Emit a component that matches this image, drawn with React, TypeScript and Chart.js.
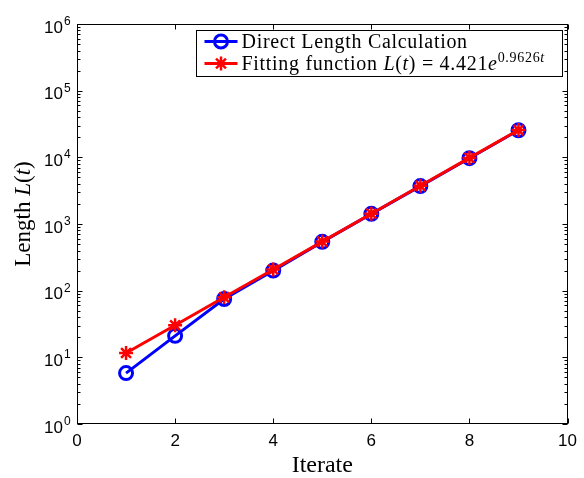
import React, { useEffect, useRef } from 'react';
import { Chart, registerables } from 'chart.js';

Chart.register(...registerables);

// ---------- data ----------
const iterations = [1, 2, 3, 4, 5, 6, 7, 8, 9];
const directLength = [5.8, 21, 75, 200, 540, 1420, 3700, 9700, 25500];
const fittedLength = [11.6, 30.3, 79.5, 208, 545, 1428, 3740, 9800, 25660];
const xTickValues = [0, 2, 4, 6, 8, 10];
const yDecadeExponents = [0, 1, 2, 3, 4, 5, 6];
const xAxisTitle = 'Iterate';
const directLabel = 'Direct Length Calculation';
const fitLabelPrefix = 'Fitting function ';
const fitCoefficient = '4.421';
const fitExponent = '0.9626';

// ---------- styles ----------
const BLUE = '#0000ff';
const RED = '#ff0000';
const SERIF = '"Liberation Serif", "Times New Roman", serif';
const SANS = '"Liberation Sans", Arial, Helvetica, sans-serif';

type Seg = { t: string; font: string; dy?: number };

function drawSegs(ctx: CanvasRenderingContext2D, segs: Seg[], x: number, y: number) {
  let cx = x;
  for (const s of segs) {
    ctx.font = s.font;
    ctx.fillText(s.t, cx, y + (s.dy || 0));
    cx += ctx.measureText(s.t).width;
  }
  return cx - x;
}
function segsWidth(ctx: CanvasRenderingContext2D, segs: Seg[]) {
  let w = 0;
  for (const s of segs) {
    ctx.font = s.font;
    w += ctx.measureText(s.t).width;
  }
  return w;
}

function drawStar(ctx: CanvasRenderingContext2D, x: number, y: number, r: number) {
  ctx.beginPath();
  ctx.moveTo(x, y - r); ctx.lineTo(x, y + r);
  ctx.moveTo(x - r, y); ctx.lineTo(x + r, y);
  const d = r * Math.SQRT1_2;
  ctx.moveTo(x - d, y - d); ctx.lineTo(x + d, y + d);
  ctx.moveTo(x - d, y + d); ctx.lineTo(x + d, y - d);
  ctx.stroke();
}

const matlabPlugin = {
  id: 'matlabAxes',
  afterDraw(chart: any) {
    const { ctx, chartArea: a, scales } = chart;
    const xs = scales.x;
    const ys = scales.y;
    ctx.save();
    ctx.strokeStyle = '#000';
    ctx.fillStyle = '#000';
    ctx.lineWidth = 1;

    const L = Math.round(a.left) + 0.5;
    const R = Math.round(a.right) - 0.5;
    const T = Math.round(a.top) + 0.5;
    const B = Math.round(a.bottom) - 0.5;

    // ticks (inward, both sides)
    ctx.beginPath();
    for (const v of xTickValues) {
      const px = Math.round(xs.getPixelForValue(v)) + 0.5;
      ctx.moveTo(px, B); ctx.lineTo(px, B - 5);
      ctx.moveTo(px, T); ctx.lineTo(px, T + 5);
    }
    for (const e of yDecadeExponents) {
      const py = Math.round(ys.getPixelForValue(Math.pow(10, e))) + 0.5;
      ctx.moveTo(L, py); ctx.lineTo(L + 5, py);
      ctx.moveTo(R, py); ctx.lineTo(R - 5, py);
      if (e < yDecadeExponents[yDecadeExponents.length - 1]) {
        for (let m = 2; m <= 9; m++) {
          const pm = Math.round(ys.getPixelForValue(m * Math.pow(10, e))) + 0.5;
          ctx.moveTo(L, pm); ctx.lineTo(L + 3, pm);
          ctx.moveTo(R, pm); ctx.lineTo(R - 3, pm);
        }
      }
    }
    ctx.stroke();

    // box
    ctx.strokeRect(L, T, R - L, B - T);

    // y tick labels 10^e
    ctx.textBaseline = 'alphabetic';
    for (const e of yDecadeExponents) {
      const py = ys.getPixelForValue(Math.pow(10, e));
      ctx.font = `17px ${SANS}`;
      ctx.textAlign = 'right';
      ctx.fillText('10', a.left - 14, py + 8.5);
      ctx.font = `12px ${SANS}`;
      ctx.textAlign = 'left';
      ctx.fillText(String(e), a.left - 13, py + 1);
    }

    // x axis title
    ctx.textAlign = 'center';
    ctx.font = `24px ${SERIF}`;
    ctx.fillText(xAxisTitle, (a.left + a.right) / 2, 471.5);

    // y axis title (rotated)
    const reg = `23px ${SERIF}`;
    const ital = `italic 23px ${SERIF}`;
    const ySegs: Seg[] = [
      { t: 'Length ', font: reg },
      { t: 'L', font: ital },
      { t: '(', font: reg },
      { t: 't', font: ital },
      { t: ')', font: reg },
    ];
    ctx.save();
    ctx.translate(30, 214);
    ctx.rotate(-Math.PI / 2);
    ctx.textAlign = 'left';
    const yw = segsWidth(ctx, ySegs);
    drawSegs(ctx, ySegs, -yw / 2, 0);
    ctx.restore();

    // legend
    const lreg = `20px ${SERIF}`;
    const lital = `italic 20px ${SERIF}`;
    const row1: Seg[] = [{ t: directLabel, font: lreg }];
    const row2: Seg[] = [
      { t: fitLabelPrefix, font: lreg },
      { t: 'L', font: lital },
      { t: '(', font: lreg },
      { t: 't', font: lital },
      { t: ') = ' + fitCoefficient, font: lreg },
      { t: 'e', font: lital },
      { t: fitExponent, font: `14px ${SERIF}`, dy: -8 },
      { t: 't', font: `italic 14px ${SERIF}`, dy: -8 },
    ];
    ctx.textAlign = 'left';
    (ctx as any).letterSpacing = '0.7px';
    const tw = Math.max(segsWidth(ctx, row1), segsWidth(ctx, row2));
    const boxR = Math.round(a.right) - 5.5;
    const boxT = Math.round(a.top) + 6.5;
    const boxW = 45 + tw + 18;
    const boxL = Math.round(boxR - boxW) + 0.5;
    const boxH = 46;
    ctx.fillStyle = '#fff';
    ctx.fillRect(boxL, boxT, boxR - boxL, boxH);
    ctx.strokeStyle = '#000';
    ctx.lineWidth = 1;
    ctx.strokeRect(boxL, boxT, boxR - boxL, boxH);

    const rowY = [boxT + 11, boxT + 33];
    const sx0 = boxL + 8;
    const sx1 = boxL + 41;
    const mx = (sx0 + sx1) / 2;
    // row 1 sample
    ctx.lineWidth = 3;
    ctx.strokeStyle = BLUE;
    ctx.beginPath(); ctx.moveTo(sx0, rowY[0]); ctx.lineTo(sx1, rowY[0]); ctx.stroke();
    ctx.beginPath(); ctx.arc(mx, rowY[0], 6.5, 0, Math.PI * 2); ctx.stroke();
    // row 2 sample
    ctx.strokeStyle = RED;
    ctx.beginPath(); ctx.moveTo(sx0, rowY[1]); ctx.lineTo(sx1, rowY[1]); ctx.stroke();
    ctx.lineWidth = 2.5;
    drawStar(ctx, mx, rowY[1], 7);

    ctx.fillStyle = '#000';
    drawSegs(ctx, row1, boxL + 45, rowY[0] + 6);
    drawSegs(ctx, row2, boxL + 45, rowY[1] + 6);
    (ctx as any).letterSpacing = '0px';

    ctx.restore();
  },
};

export default function App() {
  const canvasRef = useRef<HTMLCanvasElement | null>(null);

  useEffect(() => {
    const canvas = canvasRef.current;
    if (!canvas) return;
    const chart = new Chart(canvas, {
      type: 'line',
      data: {
        datasets: [
          {
            label: 'Fitting function',
            data: iterations.map((x, i) => ({ x, y: fittedLength[i] })),
            borderColor: RED,
            backgroundColor: RED,
            borderWidth: 3,
            pointStyle: 'star',
            pointRadius: 7,
            pointBorderWidth: 2.5,
            pointBorderColor: RED,
            pointBackgroundColor: RED,
            order: 0,
          },
          {
            label: directLabel,
            data: iterations.map((x, i) => ({ x, y: directLength[i] })),
            borderColor: BLUE,
            backgroundColor: 'rgba(0,0,0,0)',
            borderWidth: 3,
            pointStyle: 'circle',
            pointRadius: 6.5,
            pointBorderWidth: 3,
            pointBorderColor: BLUE,
            pointBackgroundColor: 'rgba(0,0,0,0)',
            order: 1,
          },
        ],
      },
      options: {
        responsive: false,
        animation: false,
        devicePixelRatio: 1,
        layout: { padding: { left: 77, right: 13, top: 24, bottom: 19.6 } },
        plugins: {
          legend: { display: false },
          tooltip: { enabled: false },
          title: { display: false },
        },
        scales: {
          x: {
            type: 'linear',
            min: 0,
            max: 10,
            ticks: {
              stepSize: 2,
              color: '#000',
              padding: 7,
              font: { family: SANS, size: 17 },
              maxRotation: 0,
            },
            grid: { display: false, drawTicks: false, tickLength: 0 },
            border: { display: false },
          },
          y: {
            type: 'logarithmic',
            min: 1,
            max: 1e6,
            ticks: { display: false },
            grid: { display: false, drawTicks: false, tickLength: 0 },
            border: { display: false },
          },
        },
      },
      plugins: [matlabPlugin],
    } as any);
    return () => chart.destroy();
  }, []);

  return (
    <div style={{ position: 'fixed', left: 0, top: 0, width: 584, height: 478, background: '#fff' }}>
      <canvas ref={canvasRef} width={584} height={478} style={{ display: 'block' }} />
    </div>
  );
}
